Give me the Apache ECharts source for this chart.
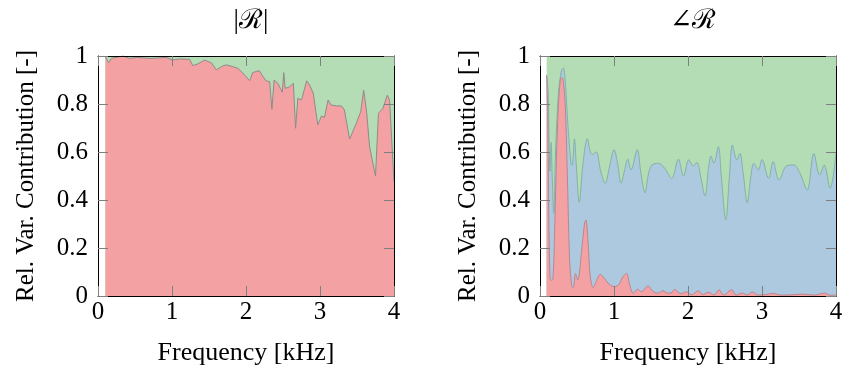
<!DOCTYPE html>
<html>
<head>
<meta charset="utf-8">
<script src="https://cdn.jsdelivr.net/npm/echarts@6/dist/echarts.min.js"></script>
<style>html,body{margin:0;padding:0;background:#fff}#c{width:848px;height:372px}</style>
</head>
<body>
<div id="c"></div>
<script>
// ---- Data ----
const xTicks = [0, 1, 2, 3, 4];
const yTicks = [0, 0.2, 0.4, 0.6, 0.8, 1];
const titles = ['|ℛ|', '∠ℛ'];

// Left panel |R|: red contribution (rest is green up to 1)
const magFreq = [0.1,0.144,0.18,0.34,0.43,0.52,0.72,0.92,1.01,1.1,1.24,1.28,1.35,1.44,1.53,1.6,1.67,1.73,1.82,1.89,1.96,2.05,2.09,2.18,2.23,2.27,2.32,2.35,2.38,2.43,2.49,2.51,2.53,2.59,2.64,2.67,2.7,2.75,2.77,2.82,2.86,2.91,2.97,3.02,3.06,3.11,3.15,3.22,3.29,3.33,3.4,3.49,3.55,3.59,3.63,3.67,3.75,3.79,3.85,3.91,3.94,4.0];
const magRed  = [0.997,0.972,0.99,1.0,0.99,0.994,0.99,0.994,0.983,0.988,0.986,0.96,0.967,0.983,0.972,0.942,0.956,0.963,0.956,0.949,0.928,0.897,0.931,0.939,0.914,0.897,0.893,0.778,0.9,0.886,0.849,0.931,0.865,0.872,0.886,0.699,0.824,0.817,0.81,0.897,0.879,0.844,0.713,0.75,0.744,0.817,0.796,0.792,0.792,0.775,0.654,0.719,0.768,0.858,0.768,0.622,0.5,0.761,0.782,0.837,0.817,0.475];

// Right panel ∠R: red contribution and red+blue cumulative boundary (rest green)
const phFreqRed = [0.09,0.105,0.12,0.135,0.15,0.175,0.2,0.23,0.26,0.29,0.31,0.34,0.37,0.4,0.43,0.45,0.48,0.51,0.56,0.6,0.62,0.65,0.68,0.72,0.76,0.815,0.87,0.93,1.01,1.07,1.12,1.17,1.21,1.26,1.32,1.37,1.46,1.51,1.55,1.6,1.66,1.72,1.77,1.82,1.87,1.91,1.98,2.05,2.14,2.2,2.28,2.35,2.42,2.48,2.59,2.65,2.73,2.8,2.87,2.95,3.05,3.15,3.25,3.4,3.54,3.7,3.85,3.92,4.0];
const phRed     = [0.92,0.75,0.3,0.09,0.065,0.07,0.3,0.65,0.85,0.91,0.905,0.8,0.5,0.15,0.04,0.036,0.094,0.067,0.18,0.3,0.317,0.22,0.08,0.035,0.06,0.09,0.074,0.05,0.039,0.05,0.08,0.094,0.05,0.012,0.028,0.018,0.042,0.025,0.015,0.012,0.022,0.012,0.012,0.028,0.015,0.01,0.018,0.005,0.022,0.006,0.016,0.004,0.026,0.004,0.026,0.004,0.012,0.005,0.016,0.004,0.006,0.011,0.004,0.005,0.008,0.004,0.012,0.003,0.004];
const phFreqBlue = [0.09,0.11,0.125,0.135,0.15,0.165,0.185,0.21,0.25,0.29,0.315,0.34,0.38,0.42,0.435,0.465,0.49,0.53,0.58,0.64,0.68,0.71,0.76,0.82,0.88,0.94,1.0,1.05,1.095,1.14,1.185,1.23,1.315,1.36,1.42,1.46,1.51,1.6,1.69,1.78,1.87,1.94,2.01,2.07,2.12,2.17,2.23,2.28,2.31,2.35,2.41,2.45,2.51,2.56,2.6,2.66,2.7,2.75,2.8,2.85,2.89,2.95,3.0,3.09,3.15,3.23,3.33,3.43,3.51,3.61,3.7,3.78,3.84,3.92,4.0];
const phBlueTop  = [0.92,0.85,0.6,0.52,0.64,0.5,0.345,0.6,0.85,0.94,0.95,0.9,0.7,0.55,0.545,0.655,0.55,0.39,0.55,0.655,0.6,0.59,0.6,0.52,0.47,0.54,0.61,0.55,0.47,0.52,0.57,0.525,0.61,0.52,0.43,0.5,0.545,0.553,0.53,0.49,0.57,0.5,0.567,0.542,0.556,0.5,0.417,0.54,0.583,0.553,0.622,0.5,0.317,0.5,0.629,0.567,0.594,0.5,0.389,0.5,0.553,0.525,0.569,0.49,0.56,0.483,0.542,0.546,0.514,0.442,0.594,0.504,0.546,0.449,0.594];

// ---- Styles ----
const RED = '#f3a1a2', GREEN = '#b5ddb5', BLUE = '#adc9e0';
const FONT = '"Liberation Serif", "DejaVu Serif", serif';
const pairs = (xs, ys) => xs.map((x, i) => [x, ys[i]]);
const full = xs => [[xs[0], 1], [4, 1]];

const grids = [
  {left: 98, top: 56, width: 296, height: 240},
  {left: 540, top: 56, width: 296, height: 240}
];

const lineAxis = {show: true, onZero: false, lineStyle: {color: '#000', width: 1}};
const tickStyle = {show: true, inside: true, length: 10, lineStyle: {color: '#7f7f7f'}};
const xAxes = [], yAxes = [];
grids.forEach((g, i) => {
  xAxes.push({
    type: 'value', gridIndex: i, min: 0, max: 4, interval: 1, position: 'bottom', z: 10,
    name: 'Frequency [kHz]', nameLocation: 'middle', nameGap: 44,
    nameTextStyle: {fontFamily: FONT, fontSize: 26, color: '#000'},
    axisLine: lineAxis, axisTick: tickStyle,
    axisLabel: {fontFamily: FONT, fontSize: 25, color: '#000', margin: 4,
      formatter: v => String(xTicks.find(k => Math.abs(k - v) < 1e-9))},
    splitLine: {show: false}
  });
  xAxes.push({
    type: 'value', gridIndex: i, min: 0, max: 4, interval: 1, position: 'top', z: 10,
    axisLine: lineAxis, axisTick: tickStyle,
    axisLabel: {show: false}, splitLine: {show: false}
  });
  yAxes.push({
    type: 'value', gridIndex: i, min: 0, max: 1, interval: 0.2, position: 'left', z: 10,
    name: 'Rel. Var. Contribution [-]', nameLocation: 'middle', nameGap: 59,
    nameTextStyle: {fontFamily: FONT, fontSize: 25, color: '#000'},
    axisLine: lineAxis, axisTick: tickStyle,
    axisLabel: {fontFamily: FONT, fontSize: 25, color: '#000', margin: 10,
      formatter: v => String(yTicks.find(k => Math.abs(k - v) < 1e-9))},
    splitLine: {show: false}
  });
  yAxes.push({
    type: 'value', gridIndex: i, min: 0, max: 1, interval: 0.2, position: 'right', z: 10,
    axisLine: lineAxis, axisTick: tickStyle,
    axisLabel: {show: false}, splitLine: {show: false}
  });
});

function area(xi, yi, data, fill, line, lw, smooth, z) {
  return {
    type: 'line', xAxisIndex: xi, yAxisIndex: yi, data: data, symbol: 'none',
    smooth: smooth, z: z, silent: true, animation: false,
    lineStyle: {color: line, width: lw},
    areaStyle: {color: fill, opacity: 1}
  };
}

const series = [
  area(0, 0, full(magFreq), GREEN, GREEN, 0, false, 1),
  area(0, 0, pairs(magFreq, magRed), RED, '#8f8a8a', 1, false, 2),
  area(2, 2, full(phFreqBlue), GREEN, GREEN, 0, false, 1),
  area(2, 2, pairs(phFreqBlue, phBlueTop), BLUE, '#80b3a6', 1, 0.35, 2),
  area(2, 2, pairs(phFreqRed, phRed), RED, '#b78790', 1, 0.35, 3)
];

const chart = echarts.init(document.getElementById('c'), null, {renderer: 'canvas'});
chart.setOption({
  animation: false,
  backgroundColor: '#fff',
  title: [
    {text: titles[0], left: 246, top: 2, textAlign: 'center', textStyle: {fontFamily: FONT, fontSize: 27, fontWeight: 'normal', color: '#000'}},
    {text: titles[1], left: 688, top: 2, textAlign: 'center', textStyle: {fontFamily: FONT, fontSize: 27, fontWeight: 'normal', color: '#000'}}
  ],
  grid: grids,
  xAxis: xAxes,
  yAxis: yAxes,
  series: series
});
</script>
</body>
</html>
